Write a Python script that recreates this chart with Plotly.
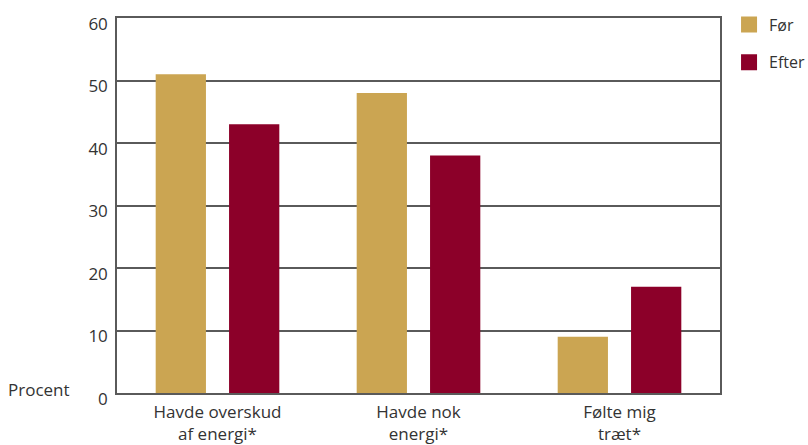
import plotly.graph_objects as go

categories = ["Havde overskud<br>af energi*", "Havde nok<br>energi*", "Følte mig<br>træt*"]
foer = [51, 48, 9]
efter = [43, 38, 17]
series_names = ["Før", "Efter"]
colors = ["#CBA552", "#8C0029"]
yticks = [0, 10, 20, 30, 40, 50, 60]

FONT = "Open Sans"
TXT = "#333333"
LINE = "#5a5a5a"

fig = go.Figure()
for name, vals, col in zip(series_names, [foer, efter], colors):
    fig.add_trace(go.Bar(x=categories, y=vals, name=name, marker_color=col,
                         marker_line_width=0, showlegend=False))
    fig.add_trace(go.Scatter(x=[None], y=[None], mode="markers", name=name,
                             marker=dict(symbol="square", size=16, color=col),
                             legendgroup=name, showlegend=True))

fig.update_layout(
    width=808, height=445,
    margin=dict(l=117, r=88, t=18, b=52, autoexpand=False),
    paper_bgcolor="white", plot_bgcolor="white",
    barmode="group", bargap=0.27, bargroupgap=0.315,
    font=dict(family=FONT, size=17, color=TXT),
    legend=dict(x=1.015, xref="paper", xanchor="left", y=1.028, yanchor="top",
                traceorder="grouped", tracegroupgap=14,
                font=dict(size=16, color=TXT), bgcolor="rgba(0,0,0,0)"),
    xaxis=dict(showline=True, linecolor=LINE, linewidth=1.5, mirror=True,
               ticks="", tickfont=dict(size=17, color=TXT), fixedrange=True,
               ticklabelstandoff=3),
    yaxis=dict(range=[0, 60], tickvals=yticks, showline=True, linecolor=LINE,
               linewidth=1.5, mirror=True, showgrid=True, gridcolor=LINE,
               gridwidth=1.5, ticks="", zeroline=False,
               tickfont=dict(size=17, color=TXT), ticklabelshift=6,
               ticklabelstandoff=4),
    annotations=[dict(text="Procent", xref="paper", yref="paper", x=-0.075,
                      y=0, xanchor="right", yanchor="middle", showarrow=False,
                      yshift=4, font=dict(size=17, color=TXT))],
)

fig.write_html("out.html")
